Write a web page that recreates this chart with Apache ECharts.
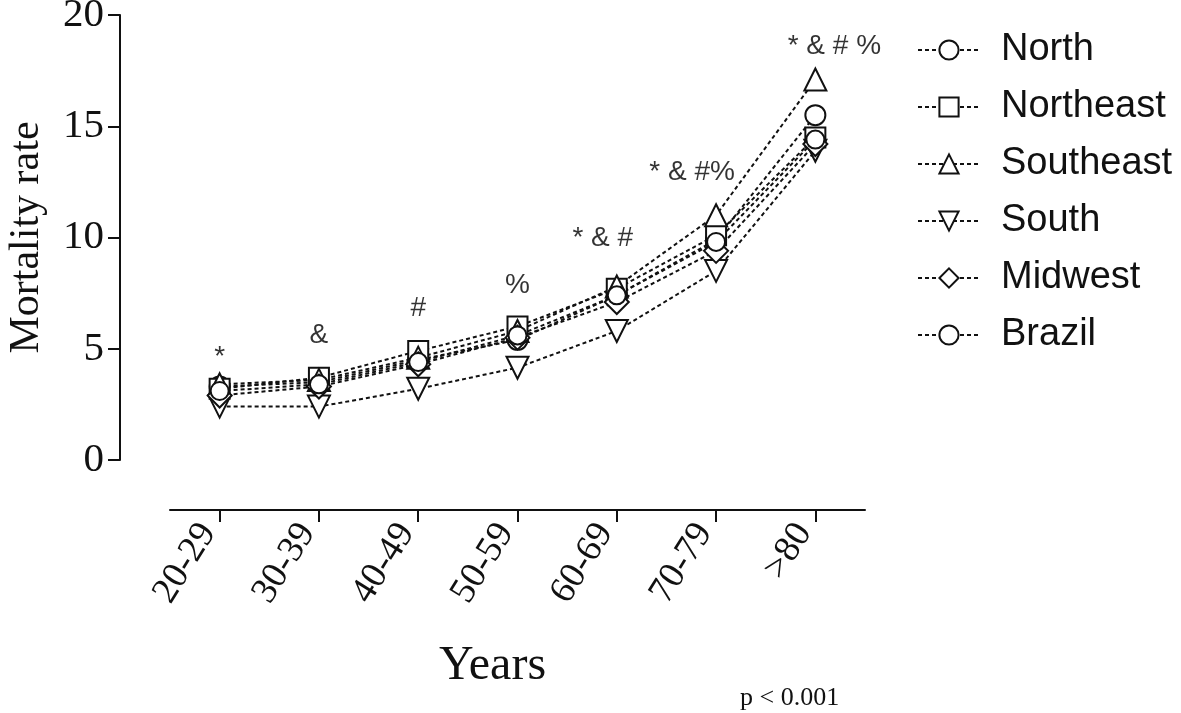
<!DOCTYPE html>
<html>
<head>
<meta charset="utf-8">
<script src="https://cdn.jsdelivr.net/npm/echarts@6/dist/echarts.min.js"></script>
<style>
  html, body { margin: 0; padding: 0; background: #fff; }
  #chart { width: 1181px; height: 713px; }
</style>
</head>
<body>
<div id="chart"></div>
<script>
// ---- data ----
const categories = ['20-29', '30-39', '40-49', '50-59', '60-69', '70-79', '>80'];
const north     = [3.3, 3.5, 4.5, 5.4, 7.4, 9.9, 15.5];
const northeast = [3.2, 3.7, 4.9, 6.0, 7.7, 10.1, 14.5];
const southeast = [3.4, 3.6, 4.6, 5.8, 7.8, 11.0, 17.1];
const south     = [2.4, 2.4, 3.2, 4.15, 5.8, 8.5, 13.9];
const midwest   = [2.9, 3.3, 4.3, 5.5, 7.1, 9.4, 14.2];
const brazil    = [3.1, 3.4, 4.4, 5.6, 7.4, 9.8, 14.4];
const annotText = ['*', '&', '#', '%', '* & #', '* & #%', '* & # %'];
const annotY    = [4.6, 5.6, 6.8, 7.85, 9.95, 12.95, 18.6];
const yMin = 0, yMax = 20, yStep = 5;

// ---- styling ----
const annotOffsets = [[0,0],[0,0],[0,0],[0,0],[-14,0],[-24,0],[19,0]];
const serif = 'Liberation Serif';
const sans = 'Liberation Sans';
const ink = '#111';
const downTri = 'path://M0,0 L20,0 L10,18 Z';

function lineSeries(name, data, symbol, size) {
  return {
    name: name, type: 'line', data: data,
    symbol: symbol, symbolSize: size,
    itemStyle: { color: '#fff', borderColor: ink, borderWidth: 2 },
    lineStyle: { color: ink, width: 2, type: [4, 3] },
    emphasis: { disabled: true },
    animation: false
  };
}

const series = [
  lineSeries('North', north, 'circle', 20),
  lineSeries('Northeast', northeast, 'rect', 20),
  lineSeries('Southeast', southeast, 'triangle', 22),
  lineSeries('South', south, downTri, 22),
  lineSeries('Midwest', midwest, 'diamond', 24),
  lineSeries('Brazil', brazil, 'circle', 18),
  {
    type: 'scatter', symbolSize: 0, silent: true, animation: false,
    data: categories.map((c, i) => ({
      value: [c, annotY[i]],
      label: { show: true, position: 'inside', formatter: annotText[i], offset: annotOffsets[i],
               color: '#000', textBorderWidth: 0, fontFamily: sans, fontSize: 28 }
    }))
  }
];

const chart = echarts.init(document.getElementById('chart'), null, { renderer: 'canvas' });
chart.setOption({
  backgroundColor: '#fff',
  animation: false,
  grid: { left: 170, right: 316, top: 15, bottom: 253, containLabel: false, outerBoundsMode: 'none' },
  xAxis: {
    type: 'category', data: categories, offset: 50,
    axisLine: { onZero: false, lineStyle: { color: ink, width: 2 } },
    axisTick: { show: true, alignWithLabel: true, length: 12, inside: false, lineStyle: { color: ink, width: 2 } },
    axisLabel: { rotate: 58, margin: -2, padding: [0, 22, 0, 0], color: ink, fontFamily: serif, fontSize: 37 },
    name: 'Years', nameLocation: 'middle', nameGap: 132,
    nameTextStyle: { color: ink, fontFamily: serif, fontSize: 48, padding: [0, 50, 0, 0] }
  },
  yAxis: {
    type: 'value', min: yMin, max: yMax, interval: yStep, offset: 50,
    axisLine: { show: true, onZero: false, lineStyle: { color: ink, width: 2 } },
    axisTick: { show: true, length: 12, lineStyle: { color: ink, width: 2 } },
    axisLabel: { margin: 16, color: ink, fontFamily: serif, fontSize: 41 },
    splitLine: { show: false },
    name: 'Mortality rate', nameLocation: 'middle', nameGap: 72,
    nameTextStyle: { color: ink, fontFamily: serif, fontSize: 42 }
  },
  legend: {
    orient: 'vertical', left: 912, top: 26,
    itemWidth: 62, itemHeight: 24, itemGap: 19,
    textStyle: { color: ink, fontFamily: sans, fontSize: 38, padding: [0, 0, 0, 16] },
    data: ['North', 'Northeast', 'Southeast', 'South', 'Midwest', 'Brazil']
  },
  title: {
    text: 'p < 0.001', left: 735, top: 680,
    textStyle: { color: ink, fontFamily: serif, fontSize: 26, fontWeight: 'normal' }
  },
  series: series
});
</script>
</body>
</html>
